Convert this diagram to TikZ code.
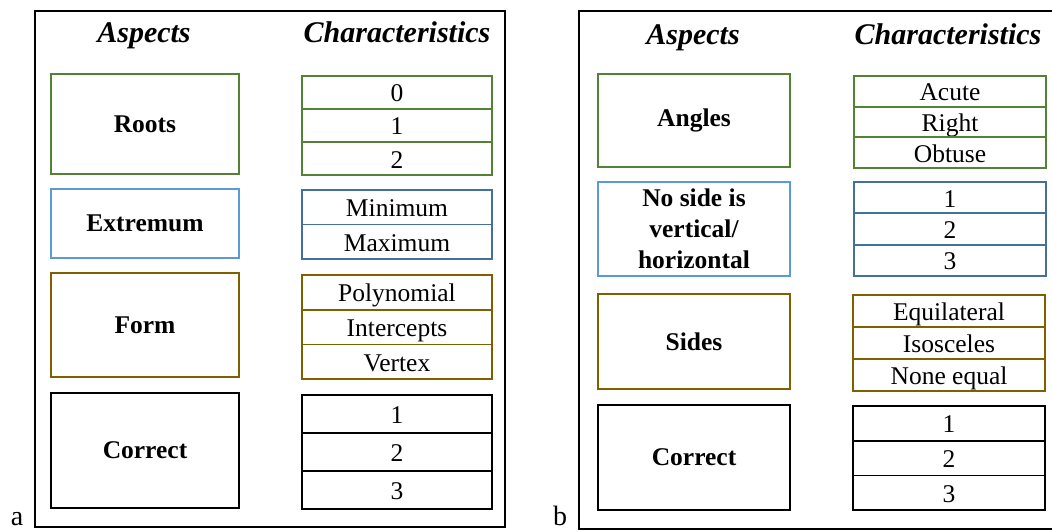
\documentclass[tikz,border=0pt]{standalone}
\usepackage{fontspec}
\setmainfont{Liberation Serif}
\usepackage{tikz}
\usetikzlibrary{positioning}
\usepackage{xcolor}
\definecolor{rootgreen}{RGB}{84,130,53}
\definecolor{lightblue}{RGB}{91,155,213}
\definecolor{darkblue}{RGB}{65,113,156}
\definecolor{darkgold}{RGB}{127,96,0}
\tikzset{
  frm/.style={draw=black, line width=2pt},
  hdr/.style={font=\fontsize{30}{34}\selectfont\bfseries\itshape, anchor=base},
  asp/.style={rectangle, draw, line width=1.8pt, minimum width=188pt,
    inner sep=0pt, outer sep=0pt, align=center, anchor=north west,
    font=\fontsize{25.5}{31}\selectfont\bfseries},
  chr/.style={rectangle, draw, line width=1.8pt, minimum width=190pt,
    inner sep=0pt, outer sep=0pt, anchor=north west,
    text height=19pt, text depth=0pt,
    font=\fontsize{25.5}{30}\selectfont},
  chrB/.style={anchor=north, below=0pt of #1},
  pnl/.style={font=\fontsize{28}{30}\selectfont, anchor=base},
}
\begin{document}
\begin{tikzpicture}[x=1pt, y=-1pt]
  \useasboundingbox (0,0) rectangle (1052,532);

  % ---- Panel a: quadratics ----
  \draw[frm] (35,11) rectangle (505,527);
  \node[pnl] (la) at (17,525) {a};
  \node[hdr] (aAsp) at (144,43) {Aspects};
  \node[hdr] (aChr) at (397,43) {Characteristics};

  \node[asp, draw=rootgreen, minimum height=100pt] (aRoots) at (51,74) {Roots};
  \node[chr, draw=rootgreen, minimum height=33pt] (aR0) at (302,76) {0};
  \node[chr, draw=rootgreen, minimum height=33pt, chrB=aR0] (aR1) {1};
  \node[chr, draw=rootgreen, minimum height=33pt, chrB=aR1] (aR2) {2};

  \node[asp, draw=lightblue, minimum height=69pt] (aExt) at (51,189) {Extremum};
  \node[chr, draw=darkblue, minimum height=34.5pt] (aE1) at (302,190) {Minimum};
  \node[chr, draw=darkblue, minimum height=34.5pt, chrB=aE1] (aE2) {Maximum};

  \node[asp, draw=darkgold, minimum height=104pt] (aForm) at (51,273) {Form};
  \node[chr, draw=darkgold, minimum height=34.7pt] (aF1) at (302,275) {Polynomial};
  \node[chr, draw=darkgold, minimum height=34.7pt, chrB=aF1] (aF2) {Intercepts};
  \node[chr, draw=darkgold, minimum height=34.7pt, chrB=aF2] (aF3) {Vertex};

  \node[asp, draw=black, minimum height=115pt] (aCor) at (51,393) {Correct};
  \node[chr, draw=black, minimum height=38pt] (aC1) at (302,395) {1};
  \node[chr, draw=black, minimum height=38pt, chrB=aC1] (aC2) {2};
  \node[chr, draw=black, minimum height=38pt, chrB=aC2] (aC3) {3};

  % ---- Panel b: triangles ----
  \draw[frm] (1060,11) -- (579,11) -- (579,529) -- (1060,529);
  \node[pnl] (lb) at (560,525) {b};
  \node[hdr] (bAsp) at (693,45) {Aspects};
  \node[hdr] (bChr) at (948,45) {Characteristics};

  \node[asp, draw=rootgreen, minimum height=93pt, minimum width=192pt] (bAng) at (598,74) {Angles};
  \node[chr, draw=rootgreen, minimum height=30.7pt, minimum width=192pt] (bA1) at (854,76) {Acute};
  \node[chr, draw=rootgreen, minimum height=30.7pt, minimum width=192pt, chrB=bA1] (bA2) {Right};
  \node[chr, draw=rootgreen, minimum height=30.7pt, minimum width=192pt, chrB=bA2] (bA3) {Obtuse};

  \node[asp, draw=lightblue, minimum height=94pt, minimum width=192pt] (bNoS) at (598,182)
       {No side is\\vertical/\\horizontal};
  \node[chr, draw=darkblue, minimum height=31.3pt, minimum width=192pt] (bN1) at (854,182) {1};
  \node[chr, draw=darkblue, minimum height=31.3pt, minimum width=192pt, chrB=bN1] (bN2) {2};
  \node[chr, draw=darkblue, minimum height=31.3pt, minimum width=192pt, chrB=bN2] (bN3) {3};

  \node[asp, draw=darkgold, minimum height=95pt, minimum width=192pt] (bSid) at (598,294) {Sides};
  \node[chr, draw=darkgold, minimum height=32pt, minimum width=192pt] (bS1) at (853,295) {Equilateral};
  \node[chr, draw=darkgold, minimum height=32pt, minimum width=192pt, chrB=bS1] (bS2) {Isosceles};
  \node[chr, draw=darkgold, minimum height=32pt, minimum width=192pt, chrB=bS2] (bS3) {None equal};

  \node[asp, draw=black, minimum height=105pt, minimum width=192pt] (bCor) at (598,405) {Correct};
  \node[chr, draw=black, minimum height=34.7pt, minimum width=192pt] (bC1) at (853,406) {1};
  \node[chr, draw=black, minimum height=34.7pt, minimum width=192pt, chrB=bC1] (bC2) {2};
  \node[chr, draw=black, minimum height=34.7pt, minimum width=192pt, chrB=bC2] (bC3) {3};
\end{tikzpicture}
\end{document}
